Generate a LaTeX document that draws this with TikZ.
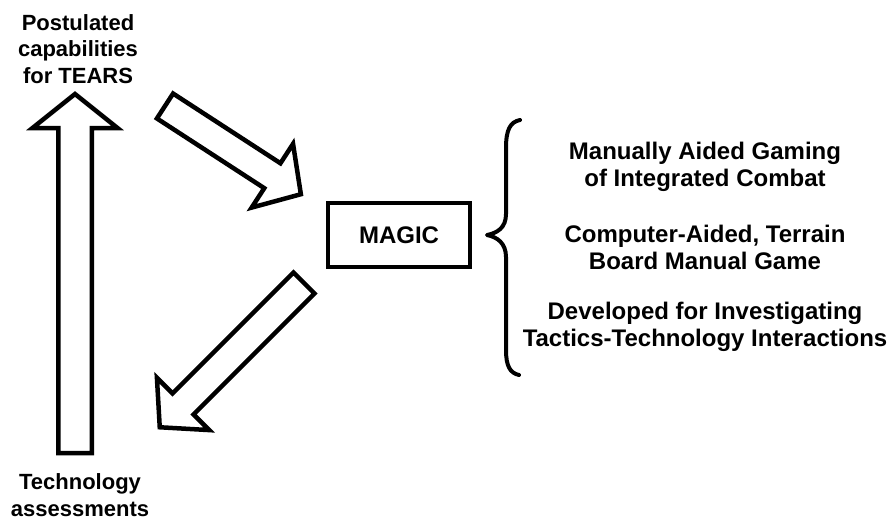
\documentclass[tikz,border=0pt]{standalone}
\usepackage{fontspec}
\setmainfont{Liberation Sans}
\newcommand\blockarrow[7]{% tailx taily angle length shaftw headw headlen
  \begin{scope}[shift={(#1,#2)}, rotate=#3]
    \draw[outl] (0,-#5/2) -- (#4-#7,-#5/2) -- (#4-#7,-#6/2) -- (#4,0)
      -- (#4-#7,#6/2) -- (#4-#7,#5/2) -- (0,#5/2) -- cycle;
  \end{scope}}
\begin{document}
\begin{tikzpicture}[x=1pt,y=-1pt,
  outl/.style={line width=4.5pt, line join=miter, draw=black, fill=white},
  lbl/.style={font=\bfseries\fontsize{22}{26.5}\selectfont, align=center, inner sep=0pt},
  rtxt/.style={font=\bfseries\fontsize{24}{27}\selectfont, align=center, inner sep=0pt},
  boxst/.style={draw, line width=4.5pt, minimum width=142pt, minimum height=64pt, inner sep=0pt,
    font=\bfseries\fontsize{24}{27}\selectfont},
  bracest/.style={line width=4pt, line cap=round, line join=round}
]
\useasboundingbox (0,0) rectangle (890,523);

% labels
\node[lbl] (post) at (78,49) {Postulated\\capabilities\\for TEARS};
\node[lbl] (tech) at (80,495) {Technology\\assessments};
\node[boxst] (magic) at (399,235) {MAGIC};
\node[rtxt] (d1) at (705,167) {Manually Aided Gaming\\of Integrated Combat};
\node[rtxt] (d2) at (705,247) {Computer-Aided, Terrain\\Board Manual Game};
\node[rtxt] (d3) at (705,327) {Developed for Investigating\\Tactics-Technology Interactions};

% block arrows
\blockarrow{75}{453}{90}{359}{33.5}{85}{34}
\blockarrow{165}{106}{-33}{162}{29.7}{76}{34}
\blockarrow{304}{283}{-135}{204}{29.7}{74}{33}

% brace
\coordinate (bt) at (520,120);
\coordinate (bm) at (487,235);
\coordinate (bb) at (519,375);
\draw[bracest] (bt) .. controls (510,122) and (506,130) .. (506,148) -- (506,214)
  .. controls (506,228) and (497,233) .. (bm)
  .. controls (497,237) and (506,243) .. (506,257) -- (506,350)
  .. controls (506,366) and (510,373) .. (bb);
\end{tikzpicture}
\end{document}
